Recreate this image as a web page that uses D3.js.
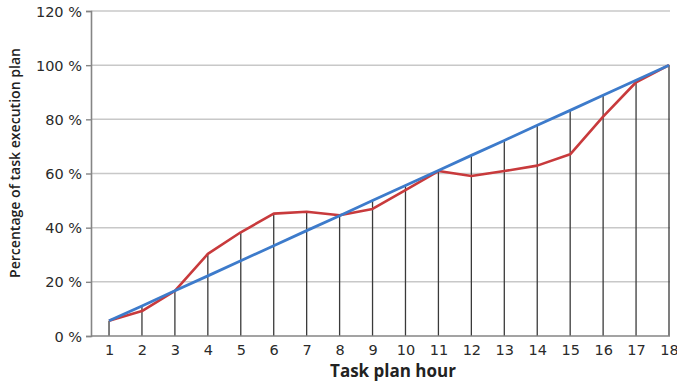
<!DOCTYPE html>
<html><head><meta charset="utf-8">
<script src="https://cdn.jsdelivr.net/npm/d3@7"></script>
<style>body{margin:0;background:#fff;}svg{display:block;}</style>
</head><body>
<script>
const hours = [1,2,3,4,5,6,7,8,9,10,11,12,13,14,15,16,17,18];
const planned = [5.6,11.1,16.7,22.2,27.8,33.3,38.9,44.4,50,55.6,61.1,66.7,72.2,77.8,83.3,88.9,94.4,100];
const actual = [5.6,9.2,16.7,30.3,38.3,45.2,45.9,44.6,46.9,53.9,60.9,59.1,60.9,62.9,67.1,81,93.7,100];
const yTicks = [0,20,40,60,80,100,120];
const yTickLabels = ["0 %","20 %","40 %","60 %","80 %","100 %","120 %"];
const xTitle = "Task plan hour";
const yTitle = "Percentage of task execution plan";

const W = 677, H = 384;
const svg = d3.select("body").append("svg").attr("width", W).attr("height", H);
const pLeft = 91, pRight = 669, pTop = 11, pBottom = 336;
const x = d3.scaleLinear().domain([0.453, 18]).range([pLeft, pRight]);
const y = d3.scaleLinear().domain([0, 120]).range([pBottom, pTop]);

// gridlines
svg.append("g").selectAll("line").data(yTicks.filter(d => d > 0)).join("line")
  .attr("x1", pLeft).attr("x2", pRight + 1)
  .attr("y1", d => y(d)).attr("y2", d => y(d))
  .attr("stroke", "#c8c8c8").attr("stroke-width", 1.5);

// drop lines
svg.append("g").selectAll("line").data(hours).join("line")
  .attr("x1", d => x(d)).attr("x2", d => x(d))
  .attr("y1", y(0)).attr("y2", (d, i) => y(Math.max(planned[i], actual[i])))
  .attr("stroke", "#3a3a3a").attr("stroke-width", 1.3);

// y axis
const yAxis = d3.axisLeft(y).tickValues(yTicks).tickFormat((d, i) => yTickLabels[i]).tickSize(5).tickPadding(4);
const gy = svg.append("g").attr("transform", `translate(${pLeft},0)`).call(yAxis);
gy.select(".domain").attr("stroke", "#858585").attr("stroke-width", 1.6);
gy.selectAll(".tick line").attr("stroke", "#858585").attr("stroke-width", 1.4);
gy.selectAll(".tick text").attr("font-family", "DejaVu Sans").attr("font-size", 14.5)
  .attr("fill", "#2a2a2a").attr("dy", "0.35em");

// x axis
const xAxis = d3.axisBottom(x).tickValues(hours).tickFormat(d3.format("d")).tickSize(0).tickPadding(9);
const gx = svg.append("g").attr("transform", `translate(0,${pBottom})`).call(xAxis);
gx.select(".domain").attr("d", `M${pLeft},0H${pRight + 1}`).attr("stroke", "#858585").attr("stroke-width", 1.6);
gx.selectAll(".tick text").attr("font-family", "DejaVu Sans").attr("font-size", 14.5).attr("fill", "#2a2a2a");

// lines
const line = d3.line().x((d, i) => x(hours[i])).y(d => y(d));
svg.append("path").datum(actual).attr("d", line).attr("fill", "none")
  .attr("stroke", "#c83a3c").attr("stroke-width", 2.6).attr("stroke-linejoin", "round");
svg.append("path").datum(planned).attr("d", line).attr("fill", "none")
  .attr("stroke", "#3d7bcb").attr("stroke-width", 2.8).attr("stroke-linejoin", "round");

// titles
svg.append("text").attr("x", 393).attr("y", 377).attr("text-anchor", "middle")
  .attr("font-family", "Open Sans").attr("font-weight", "bold").attr("font-size", 17)
  .attr("fill", "#222").text(xTitle);
svg.append("text").attr("transform", "translate(20,163) rotate(-90)").attr("text-anchor", "middle")
  .attr("font-family", "Open Sans").attr("font-weight", "600").attr("font-size", 15)
  .attr("textLength", 230).attr("lengthAdjust", "spacingAndGlyphs")
  .attr("fill", "#222").text(yTitle);
</script>
</body></html>
